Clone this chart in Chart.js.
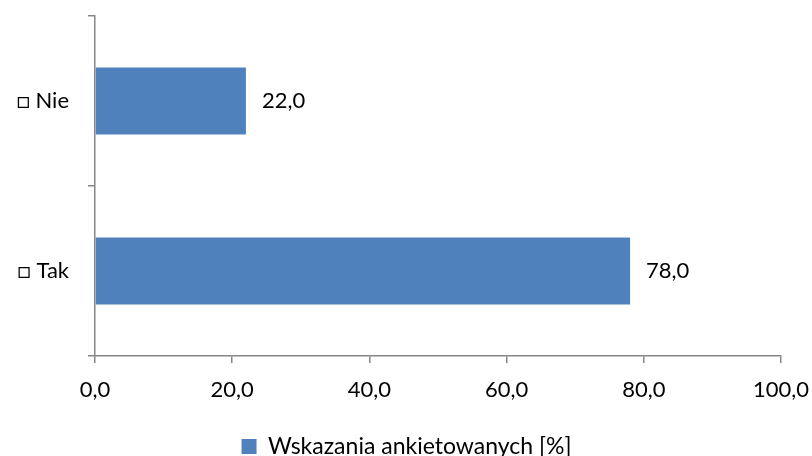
<!DOCTYPE html>
<html>
<head>
<meta charset="utf-8">
<script src="https://cdn.jsdelivr.net/npm/chart.js@4/dist/chart.umd.min.js"></script>
<style>
  html, body { margin: 0; padding: 0; background: #fff; }
  #wrap { width: 812px; height: 456px; }
</style>
</head>
<body>
<div id="wrap"><canvas id="c" width="812" height="456"></canvas></div>
<script>
// Survey answers (percent of respondents)
const categories = ['□ Nie', '□ Tak'];
const shares = [22.0, 78.0];
const seriesName = 'Wskazania ankietowanych [%]';
const xTicks = [0, 20, 40, 60, 80, 100];

const FONT = 'Lato, "Open Sans", sans-serif';
const AXIS_GRAY = '#868686';
const BAR_BLUE = '#4F81BD';

const fmt = v => v.toFixed(1).replace('.', ',');

// Writes each bar's value just past its end
const valueLabels = {
  id: 'valueLabels',
  afterDatasetsDraw(chart) {
    const ctx = chart.ctx;
    ctx.save();
    ctx.font = '22px ' + FONT;
    ctx.fillStyle = '#000';
    ctx.textAlign = 'left';
    ctx.textBaseline = 'middle';
    chart.getDatasetMeta(0).data.forEach((bar, i) => {
      ctx.fillText(fmt(chart.data.datasets[0].data[i]), bar.x + 16, bar.y);
    });
    ctx.restore();
  }
};

// Nudges the legend right and down, against the bottom edge
const legendShift = {
  id: 'legendShift',
  afterLayout(chart) {
    const lg = chart.legend;
    if (lg) { lg.left += 16; lg.right += 16; lg.top += 12; lg.bottom += 12; }
  }
};

new Chart(document.getElementById('c'), {
  type: 'bar',
  data: {
    labels: categories,
    datasets: [{
      label: seriesName,
      data: shares,
      backgroundColor: BAR_BLUE,
      borderWidth: 0,
      categoryPercentage: 1,
      barPercentage: 0.394
    }]
  },
  options: {
    indexAxis: 'y',
    responsive: false,
    animation: false,
    layout: { padding: { top: 16, right: 31, left: 0, bottom: 0 } },
    scales: {
      x: {
        min: 0, max: 100,
        afterBuildTicks(s) { s.ticks = xTicks.map(v => ({ value: v })); },
        afterFit(s) { s.height = 65; s.paddingLeft = 0; s.paddingRight = 0; },
        border: { display: true, color: AXIS_GRAY, width: 1.5 },
        grid: { drawOnChartArea: false, drawTicks: true, tickLength: 7, color: AXIS_GRAY, lineWidth: 1.5 },
        ticks: {
          color: '#000',
          font: { family: FONT, size: 22 },
          padding: 14,
          maxRotation: 0,
          callback: v => fmt(v)
        }
      },
      y: {
        afterFit(s) { s.width = 95; s.paddingTop = 0; s.paddingBottom = 0; },
        border: { display: true, color: AXIS_GRAY, width: 1.5 },
        grid: { drawOnChartArea: false, drawTicks: true, tickLength: 7, color: AXIS_GRAY, lineWidth: 1.5, offset: true },
        ticks: {
          color: '#000',
          font: { family: FONT, size: 22 },
          padding: 19
        }
      }
    },
    plugins: {
      legend: {
        position: 'bottom',
        labels: {
          color: '#000',
          font: { family: FONT, size: 23 },
          boxWidth: 15,
          boxHeight: 15,
          padding: 2
        }
      },
      tooltip: { enabled: false }
    }
  },
  plugins: [valueLabels, legendShift]
});
</script>
</body>
</html>
